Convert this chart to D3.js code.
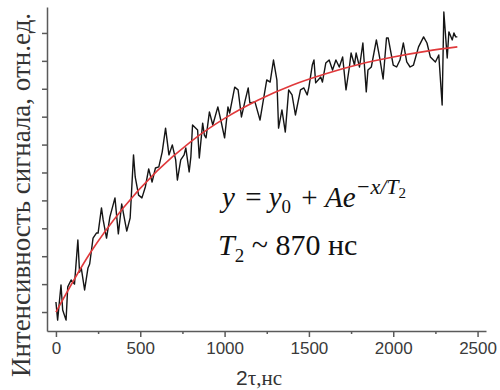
<!DOCTYPE html>
<html>
<head>
<meta charset="utf-8">
<script src="https://cdn.jsdelivr.net/npm/d3@7"></script>
<style>
    body { margin: 0; background: #ffffff; }
</style>
</head>
<body>
<div id="chart"></div>
<script>
// measured signal (2tau in ns, intensity in rel. units)
var times = [0, 10, 30, 40, 60, 70, 90, 110, 130, 140, 150, 170, 190, 200, 220, 240, 250, 270, 280, 300,
    320, 350, 370, 390, 420, 440, 460, 470, 490, 510, 530, 550, 570, 590, 610, 630, 650, 670, 690, 710,
    720, 740, 760, 770, 790, 800, 810, 840, 850, 870, 880, 890, 910, 930, 960, 980, 1000, 1020, 1030, 1060,
    1080, 1100, 1120, 1140, 1150, 1180, 1210, 1230, 1250, 1270, 1290, 1310, 1320, 1340, 1360, 1380, 1400, 1420, 1450, 1470,
    1490, 1500, 1520, 1530, 1540, 1570, 1580, 1600, 1620, 1640, 1660, 1680, 1700, 1720, 1740, 1750, 1770, 1780, 1800, 1820,
    1840, 1850, 1870, 1900, 1920, 1940, 1960, 1970, 2000, 2020, 2040, 2060, 2080, 2100, 2120, 2150, 2180, 2200, 2220, 2250,
    2270, 2290, 2300, 2320, 2330, 2350, 2360, 2370, 2380];
var signal = [0.36, -0.29, 0.97, 0.07, -0.29, 0.90, 1.15, 1.00, 2.58, 1.43, 1.58, 0.79, 1.58, 1.72, 2.65, 2.83, 2.83, 3.73, 3.30, 2.65,
    3.41, 4.09, 2.80, 3.87, 2.90, 3.37, 5.63, 4.84, 4.19, 4.09, 4.48, 5.13, 4.66, 5.16, 5.20, 5.73, 6.59, 5.63, 5.99, 5.45,
    4.73, 5.45, 5.63, 5.88, 5.02, 5.56, 6.70, 6.52, 5.52, 6.77, 6.34, 6.24, 7.17, 6.70, 7.35, 6.81, 6.24, 7.35, 7.13, 8.06,
    7.96, 6.99, 7.53, 8.03, 7.49, 7.53, 6.88, 7.60, 8.32, 8.24, 9.03, 8.32, 6.59, 7.24, 6.45, 7.96, 7.78, 7.06, 7.96, 8.03,
    7.78, 8.06, 8.85, 9.03, 8.21, 8.42, 8.24, 8.92, 9.03, 8.67, 9.03, 8.78, 9.14, 7.96, 8.78, 9.28, 8.85, 9.28, 8.78, 9.64,
    7.89, 8.67, 8.78, 9.75, 9.10, 8.35, 9.82, 9.82, 8.85, 8.78, 9.03, 9.64, 8.96, 8.78, 8.85, 9.50, 9.86, 9.64, 9.14, 8.96,
    9.21, 7.42, 10.75, 9.10, 10.04, 9.75, 10.00, 9.86, 9.86];

// fitted curve y = y0 + A*exp(-x/T2)
var fitTimes = [0, 200, 400, 600, 800, 1000, 1200, 1400, 1600, 1800, 2000, 2200, 2380];
var fitValues = [0, 2.09, 3.74, 5.06, 6.11, 6.94, 7.60, 8.13, 8.54, 8.88, 9.14, 9.35, 9.50];

// ticks
var xTicks = [0, 500, 1000, 1500, 2000, 2500];
var xMinorTicks = [250, 750, 1250, 1750, 2250];
var yTicks = [0, 1, 2, 3, 4, 5, 6, 7, 8, 9, 10];

var SERIF = "Liberation Serif";
var SANS = "Liberation Sans";

var width = 500, height = 390;

var svg = d3.select("#chart").append("svg")
    .attr("width", width)
    .attr("height", height);

var x = d3.scaleLinear().domain([-53, 2550]).range([47, 486]);
var y = d3.scaleLinear().domain([-0.68, 10.93]).range([331, 7]);

//x axis with major labels
var xAxis = svg.append("g")
    .attr("transform", "translate(0," + y.range()[0] + ")")
    .call(d3.axisBottom(x).tickValues(xTicks).tickFormat(d3.format("d"))
        .tickSize(6).tickSizeOuter(0).tickPadding(5));

//minor x ticks, no labels
svg.append("g")
    .attr("transform", "translate(0," + y.range()[0] + ")")
    .call(d3.axisBottom(x).tickValues(xMinorTicks).tickSize(3).tickSizeOuter(0).tickFormat(""))
    .select(".domain").remove();

//y axis, ticks only
var yAxis = svg.append("g")
    .attr("transform", "translate(" + x.range()[0] + ",0)")
    .call(d3.axisLeft(y).tickValues(yTicks).tickSize(5).tickSizeOuter(0).tickFormat(""));

svg.selectAll(".domain, .tick line")
    .style("stroke", "#5a5a5a")
    .style("stroke-width", "1.5px");

xAxis.selectAll("text")
    .style("font-family", SANS)
    .style("font-size", "17px")
    .style("fill", "#3a3a3a");

//signal line
var pts = times.map(function(t, i) { return [t, signal[i]]; });
svg.append("path")
    .datum(pts)
    .attr("d", d3.line().x(function(d) { return x(d[0]); }).y(function(d) { return y(d[1]); }))
    .style("fill", "none")
    .style("stroke", "#151515")
    .style("stroke-width", "1.4px")
    .style("stroke-linejoin", "round");

//fit line
var fitPts = fitTimes.map(function(t, i) { return [t, fitValues[i]]; });
svg.append("path")
    .datum(fitPts)
    .attr("d", d3.line().curve(d3.curveMonotoneX).x(function(d) { return x(d[0]); }).y(function(d) { return y(d[1]); }))
    .style("fill", "none")
    .style("stroke", "#e0393b")
    .style("stroke-width", "1.6px");

//axis titles
svg.append("text")
    .attr("transform", "translate(30,195) rotate(-90)")
    .attr("text-anchor", "middle")
    .style("font-family", SERIF)
    .style("font-size", "27px")
    .style("fill", "#333")
    .text("Интенсивность сигнала, отн.ед.");

var xt = svg.append("text")
    .attr("x", 259)
    .attr("y", 385)
    .attr("text-anchor", "middle")
    .style("font-family", SERIF)
    .style("font-size", "21px")
    .style("fill", "#333");
xt.append("tspan").style("font-family", SANS).text("2");
xt.append("tspan").text("τ,нс");

//formula
var f1 = svg.append("text")
    .attr("x", 222)
    .attr("y", 207)
    .style("font-family", SERIF)
    .style("font-size", "29px")
    .style("fill", "#111");
f1.append("tspan").style("font-style", "italic").text("y");
f1.append("tspan").attr("dx", 3).text(" = ");
f1.append("tspan").style("font-style", "italic").text("y");
f1.append("tspan").attr("dy", 6).style("font-size", "19px").text("0");
f1.append("tspan").attr("dy", -6).attr("dx", 3).text(" + ");
f1.append("tspan").style("font-style", "italic").text("Ae");
f1.append("tspan").attr("dy", -13).style("font-size", "22px").style("font-style", "italic").text("−x/T");
f1.append("tspan").attr("dy", 4).style("font-size", "15px").text("2");

var f2 = svg.append("text")
    .attr("x", 218)
    .attr("y", 255)
    .style("font-family", SERIF)
    .style("font-size", "30px")
    .style("fill", "#111");
f2.append("tspan").style("font-style", "italic").text("T");
f2.append("tspan").attr("dy", 7).style("font-size", "19px").text("2");
f2.append("tspan").attr("dy", -7).text(" ~ 870 нс");
</script>
</body>
</html>
